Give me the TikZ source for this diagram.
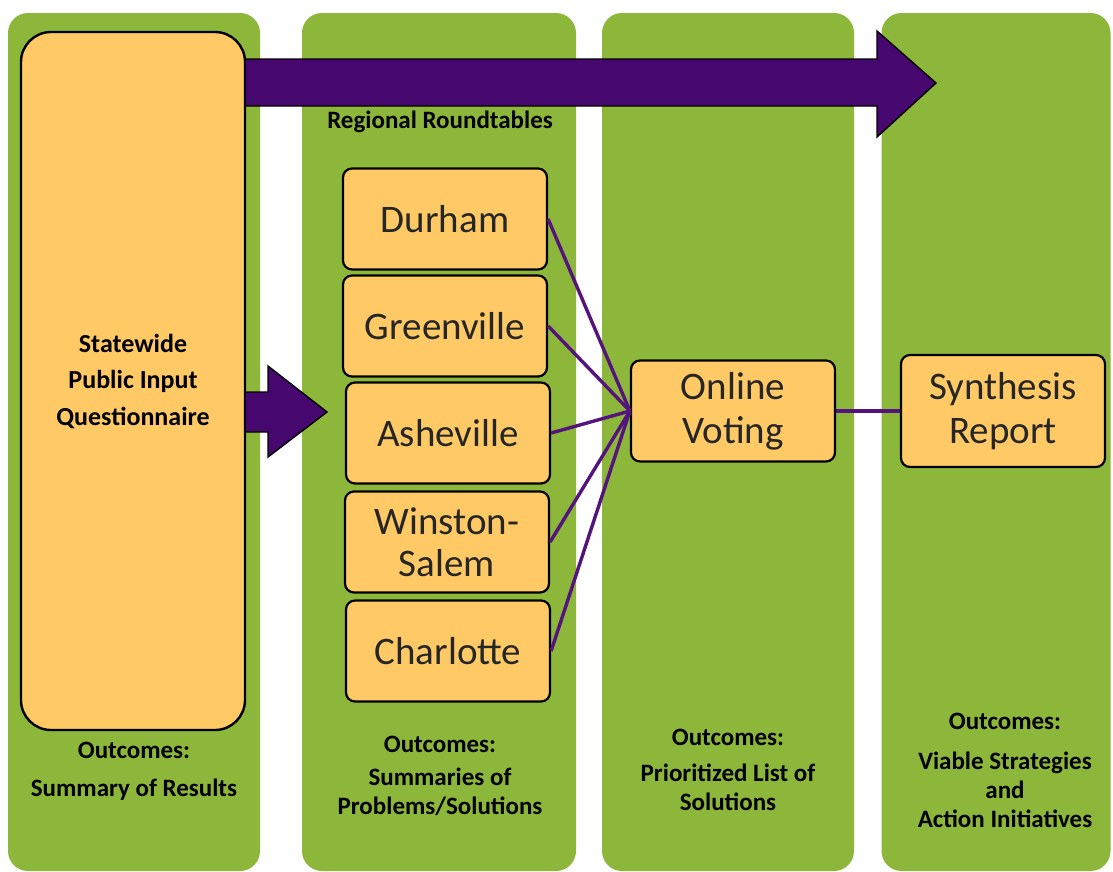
\documentclass[tikz,border=0pt]{standalone}
\usepackage{fontspec}
\setmainfont{Carlito}
\usepackage{xcolor}
\definecolor{phasegreen}{RGB}{141,183,59}
\definecolor{boxorange}{RGB}{255,201,102}
\definecolor{darkpurple}{RGB}{70,8,110}
\definecolor{linkpurple}{RGB}{85,20,125}
\tikzset{
  phase/.style={fill=phasegreen, rounded corners=20pt, inner sep=0pt},
  citybox/.style={draw=black, line width=2.2pt, fill=boxorange, rounded corners=9pt,
    minimum width=204pt, minimum height=101pt, align=center,
    font=\fontsize{39}{44}\selectfont, text=black!85},
  outcome/.style={align=center, font=\fontsize{25}{29}\bfseries\selectfont},
  link/.style={draw=linkpurple, line width=3.4pt},
  bigarrow/.style={fill=darkpurple, draw=black, line width=1.4pt, line join=miter}
}
\begin{document}
\begin{tikzpicture}[x=1pt,y=-1pt]
\useasboundingbox (0,0) rectangle (1113,871);
\fill[white] (0,0) rectangle (1113,871);

% phases
\node[phase, minimum width=252pt, minimum height=858pt] (phaseA) at (134,442) {};
\node[phase, minimum width=274pt, minimum height=858pt] (phaseB) at (439,442) {};
\node[phase, minimum width=252pt, minimum height=858pt] (phaseC) at (728,442) {};
\node[phase, minimum width=229pt, minimum height=858pt] (phaseD) at (996,442) {};

% questionnaire
\node[draw=black, line width=2.4pt, fill=boxorange, rounded corners=30pt,
  minimum width=224pt, minimum height=698pt, align=center,
  font=\fontsize{26}{36.5}\bfseries\selectfont] (quest) at (133,381)
  {Statewide\\Public Input\\Questionnaire};

% arrows
\draw[bigarrow] (quest.east |- 0,59) -- (877,59) -- (877,31) -- (936,83)
  -- (877,137) -- (877,106) -- (quest.east |- 0,106);
\draw[bigarrow] (quest.east |- 0,392) -- (268,392) -- (268,366) -- (327,412)
  -- (268,457) -- (268,432) -- (quest.east |- 0,432);

\node[font=\fontsize{25}{28}\bfseries\selectfont] (regional) at (440,122) {Regional Roundtables};

% cities
\node[citybox] (durham) at (445,219) {Durham};
\node[citybox] (greenville) at (445,326) {Greenville};
\node[citybox] (asheville) at (448,433) {Asheville};
\node[citybox, font=\fontsize{39}{42}\selectfont] (winston) at (447,542) {Winston-\\Salem};
\node[citybox] (charlotte) at (448,651) {Charlotte};

\node[citybox] (vote) at (733,411) {Online\\Voting};
\node[citybox, minimum height=112pt] (report) at (1003,411) {Synthesis\\Report};

\foreach \c in {durham,greenville,asheville,winston,charlotte}
  \draw[link] (\c.east) -- (vote.west);
\draw[link] (vote.east) -- (report.west);

% outcomes
\node[outcome] (outA) at (134,771) {Outcomes:\\[9pt]Summary of Results};
\node[outcome] (outB) at (440,776) {Outcomes:\\[4pt]Summaries of\\Problems/Solutions};
\node[outcome] (outC) at (728,770) {Outcomes:\\[7pt]Prioritized List of\\Solutions};
\node[outcome] (outD) at (1005,770) {Outcomes:\\[11pt]Viable Strategies\\and\\Action Initiatives};
\end{tikzpicture}
\end{document}
